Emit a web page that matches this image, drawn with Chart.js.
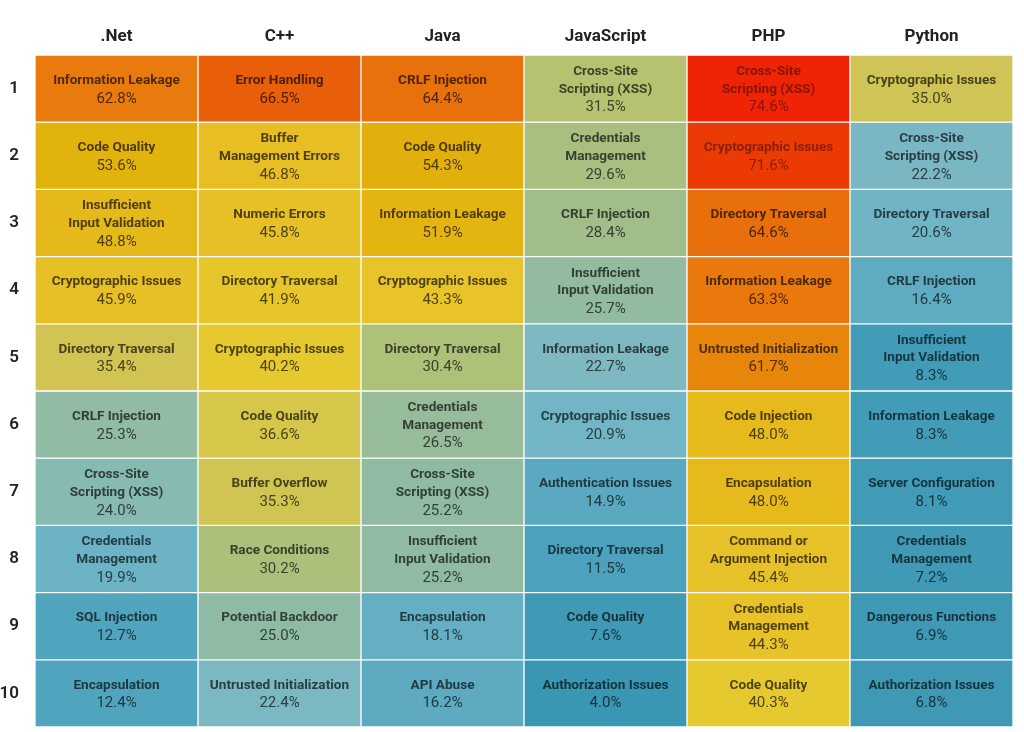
<!DOCTYPE html>
<html>
<head>
<meta charset="utf-8">
<script src="https://cdn.jsdelivr.net/npm/chart.js@4/dist/chart.umd.min.js"></script>
<style>
  html, body { margin: 0; padding: 0; background: #fff; }
  #box { width: 1024px; height: 732px; }
</style>
</head>
<body>
<div id="box"><canvas id="heatmap"></canvas></div>
<script>
// ---- data ----
const languages = ['.Net', 'C++', 'Java', 'JavaScript', 'PHP', 'Python'];
const ranks = ['1', '2', '3', '4', '5', '6', '7', '8', '9', '10'];

const netIssues = ['Information Leakage', 'Code Quality', 'Insufficient\nInput Validation', 'Cryptographic Issues', 'Directory Traversal',
  'CRLF Injection', 'Cross-Site\nScripting (XSS)', 'Credentials\nManagement', 'SQL Injection', 'Encapsulation'];
const netShare = [62.8, 53.6, 48.8, 45.9, 35.4, 25.3, 24.0, 19.9, 12.7, 12.4];

const cppIssues = ['Error Handling', 'Buffer\nManagement Errors', 'Numeric Errors', 'Directory Traversal', 'Cryptographic Issues',
  'Code Quality', 'Buffer Overflow', 'Race Conditions', 'Potential Backdoor', 'Untrusted Initialization'];
const cppShare = [66.5, 46.8, 45.8, 41.9, 40.2, 36.6, 35.3, 30.2, 25.0, 22.4];

const javaIssues = ['CRLF Injection', 'Code Quality', 'Information Leakage', 'Cryptographic Issues', 'Directory Traversal',
  'Credentials\nManagement', 'Cross-Site\nScripting (XSS)', 'Insufficient\nInput Validation', 'Encapsulation', 'API Abuse'];
const javaShare = [64.4, 54.3, 51.9, 43.3, 30.4, 26.5, 25.2, 25.2, 18.1, 16.2];

const jsIssues = ['Cross-Site\nScripting (XSS)', 'Credentials\nManagement', 'CRLF Injection', 'Insufficient\nInput Validation', 'Information Leakage',
  'Cryptographic Issues', 'Authentication Issues', 'Directory Traversal', 'Code Quality', 'Authorization Issues'];
const jsShare = [31.5, 29.6, 28.4, 25.7, 22.7, 20.9, 14.9, 11.5, 7.6, 4.0];

const phpIssues = ['Cross-Site\nScripting (XSS)', 'Cryptographic Issues', 'Directory Traversal', 'Information Leakage', 'Untrusted Initialization',
  'Code Injection', 'Encapsulation', 'Command or\nArgument Injection', 'Credentials\nManagement', 'Code Quality'];
const phpShare = [74.6, 71.6, 64.6, 63.3, 61.7, 48.0, 48.0, 45.4, 44.3, 40.3];

const pyIssues = ['Cryptographic Issues', 'Cross-Site\nScripting (XSS)', 'Directory Traversal', 'CRLF Injection', 'Insufficient\nInput Validation',
  'Information Leakage', 'Server Configuration', 'Credentials\nManagement', 'Dangerous Functions', 'Authorization Issues'];
const pyShare = [35.0, 22.2, 20.6, 16.4, 8.3, 8.3, 8.1, 7.2, 6.9, 6.8];

const issuesByLang = [netIssues, cppIssues, javaIssues, jsIssues, phpIssues, pyIssues];
const shareByLang = [netShare, cppShare, javaShare, jsShare, phpShare, pyShare];

// ---- colour scale (value -> rgb) ----
const stops = [
  [4, [58, 151, 179]], [8, [65, 154, 182]], [12, [78, 163, 189]], [15, [90, 169, 192]],
  [20, [108, 179, 198]], [22.5, [124, 184, 194]], [25, [143, 187, 164]], [28.4, [160, 189, 138]],
  [31, [178, 194, 116]], [35, [207, 196, 85]], [40, [230, 201, 47]], [43, [232, 196, 42]],
  [46, [231, 192, 39]], [48, [230, 186, 29]], [52, [228, 181, 17]], [54, [226, 178, 12]],
  [61.7, [232, 134, 12]], [62.8, [233, 123, 14]], [64.5, [232, 112, 11]], [66.5, [233, 94, 8]],
  [71.6, [236, 58, 5]], [74.6, [239, 35, 6]]
];

function cellRgb(v) {
  if (v <= stops[0][0]) return stops[0][1];
  for (let i = 1; i < stops.length; i++) {
    if (v <= stops[i][0]) {
      const [v0, c0] = stops[i - 1];
      const [v1, c1] = stops[i];
      const t = (v - v0) / (v1 - v0);
      return c0.map((c, k) => Math.round(c + (c1[k] - c) * t));
    }
  }
  return stops[stops.length - 1][1];
}

function rgb(c) { return `rgb(${c[0]}, ${c[1]}, ${c[2]})`; }

function textColour(v) {
  const f = v >= 70 ? 0.58 : 0.34;
  return rgb(cellRgb(v).map(c => Math.round(c * f)));
}

// one dataset per rank row, each cell is one unit tall
const datasets = ranks.map((r, i) => ({
  label: r,
  data: languages.map(() => 1),
  backgroundColor: shareByLang.map(s => rgb(cellRgb(s[i]))),
  borderColor: '#ffffff',
  borderWidth: 1,
  borderSkipped: false,
  barPercentage: 1,
  categoryPercentage: 1
}));

// draws issue name + percentage in each cell
const cellText = {
  id: 'cellText',
  afterDatasetsDraw(chart) {
    const ctx = chart.ctx;
    ctx.save();
    ctx.textAlign = 'center';
    ctx.textBaseline = 'middle';
    const lh = 17.5;
    chart.data.datasets.forEach((ds, i) => {
      chart.getDatasetMeta(i).data.forEach((bar, j) => {
        const value = shareByLang[j][i];
        const lines = issuesByLang[j][i].split('\n');
        const n = lines.length + 1;
        const cy = (bar.y + bar.base) / 2 + 0.5;
        let y = cy - (n - 1) * lh / 2;
        ctx.fillStyle = textColour(value);
        ctx.font = 'bold 13.6px Roboto';
        lines.forEach(line => {
          ctx.fillText(line, bar.x, y);
          y += lh;
        });
        ctx.font = '15px Roboto';
        ctx.fillText(value.toFixed(1) + '%', bar.x, y + 1);
      });
    });
    ctx.restore();
  }
};

new Chart(document.getElementById('heatmap'), {
  type: 'bar',
  data: { labels: languages, datasets: datasets },
  options: {
    responsive: true,
    maintainAspectRatio: false,
    animation: false,
    layout: { padding: { top: 0, left: 0, right: 11, bottom: 5 } },
    plugins: { legend: { display: false }, tooltip: { enabled: false } },
    scales: {
      x: {
        type: 'category',
        position: 'top',
        stacked: true,
        grid: { display: false, drawTicks: false },
        border: { display: false },
        ticks: { color: '#222', padding: 8, font: { family: 'Roboto', size: 17, weight: 'bold' } },
        afterFit(scale) { scale.height = 55; }
      },
      y: {
        type: 'linear',
        stacked: true,
        reverse: true,
        min: 0,
        max: 10,
        grid: { display: false, drawTicks: false },
        border: { display: false },
        afterBuildTicks(scale) {
          scale.ticks = ranks.map((r, i) => ({ value: i + 0.5 }));
        },
        ticks: {
          color: '#222',
          padding: 16,
          font: { family: 'Roboto', size: 17, weight: '600' },
          callback: (v) => ranks[Math.floor(v)]
        },
        afterFit(scale) {
          scale.width = 35;
          scale.paddingTop = 0;
          scale.paddingBottom = 0;
        }
      }
    }
  },
  plugins: [cellText]
});
</script>
</body>
</html>
